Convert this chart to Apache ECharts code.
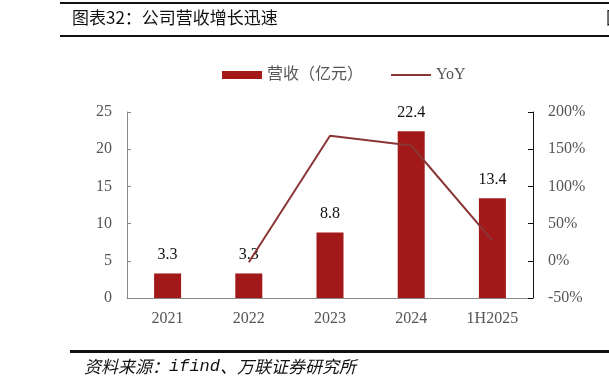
<!DOCTYPE html>
<html><head><meta charset="utf-8">
<script src="https://cdn.jsdelivr.net/npm/echarts@6/dist/echarts.min.js"></script>
<style>html,body{margin:0;padding:0;background:#fff}#c{width:609px;height:388px}</style>
</head><body><div id="c"></div>
<script>
var categories = ['2021', '2022', '2023', '2024', '1H2025'];
var revenue = [3.3, 3.3, 8.8, 22.4, 13.4];
var yoy = [null, -2, 168, 155, 27];
var leftTicks = {min: 0, max: 25, interval: 5};
var rightTicks = {min: -50, max: 200, interval: 50};
var titleText = '图表32：公司营收增长迅速';
var sourceParts = ['资料来源：', 'ifind', '、万联证券研究所'];

var numFont = '"Liberation Serif", "Noto Sans CJK SC", serif';
var cjkFont = '"Noto Sans CJK SC", serif';
var chart = echarts.init(document.getElementById('c'));
chart.setOption({
  animation: false,
  backgroundColor: '#fff',
  grid: {left: 127, right: 76, top: 112, bottom: 90},
  legend: {
    top: 67, left: 222, padding: 0,
    itemGap: 28,
    textStyle: {fontFamily: numFont, fontSize: 16, color: '#555'},
    data: [
      {name: '营收（亿元）', icon: 'rect', itemStyle: {color: '#A3191A'}},
      {name: 'YoY', icon: 'path://M0,0 L40,0 L40,2 L0,2 Z', itemStyle: {color: '#8B3535'}}
    ],
    itemWidth: 40, itemHeight: 8
  },
  graphic: [
    {type: 'rect', shape: {x: 60, y: 2, width: 549, height: 2}, style: {fill: '#111'}},
    {type: 'rect', shape: {x: 60, y: 35, width: 549, height: 2}, style: {fill: '#111'}},
    {type: 'text', left: 72, top: 9, style: {text: titleText, font: '17px "Noto Sans CJK SC"', fill: '#111'}},
    {type: 'text', left: 606, top: 9, style: {text: '图', font: '17px "Noto Sans CJK SC"', fill: '#111'}},
    {type: 'rect', shape: {x: 70, y: 350, width: 539, height: 3}, style: {fill: '#111'}},
    {type: 'text', left: 84, top: 358, style: {
      text: '{a|' + sourceParts[0] + '}{b|' + sourceParts[1] + '}{a|' + sourceParts[2] + '}',
      rich: {
        a: {fontFamily: 'Noto Sans CJK SC', fontStyle: 'italic', fontSize: 17, fill: '#111', color: '#111'},
        b: {fontFamily: 'Liberation Mono', fontStyle: 'italic', fontSize: 17, fill: '#111', color: '#111'}
      }
    }}
  ],
  xAxis: {
    type: 'category', data: categories,
    axisLine: {lineStyle: {color: '#888'}},
    axisTick: {inside: true, length: 5, lineStyle: {color: '#888'}},
    axisLabel: {fontFamily: numFont, fontSize: 16, color: '#555', margin: 13}
  },
  yAxis: [
    {type: 'value', min: leftTicks.min, max: leftTicks.max, interval: leftTicks.interval,
     splitLine: {show: false},
     axisLine: {show: true, lineStyle: {color: '#888'}},
     axisTick: {show: true, inside: true, length: 4, lineStyle: {color: '#888'}},
     axisLabel: {fontFamily: numFont, fontSize: 16, color: '#555', margin: 15}},
    {type: 'value', min: rightTicks.min, max: rightTicks.max, interval: rightTicks.interval,
     position: 'right', splitLine: {show: false},
     axisLine: {show: true, lineStyle: {color: '#111'}},
     axisTick: {show: true, inside: true, length: 5, lineStyle: {color: '#111'}},
     axisLabel: {fontFamily: numFont, fontSize: 16, color: '#555', margin: 15, formatter: '{value}%'}}
  ],
  series: [
    {name: '营收（亿元）', type: 'bar', data: revenue, barWidth: 27, yAxisIndex: 0,
     itemStyle: {color: '#A3191A'},
     label: {show: true, position: 'top', distance: 11, fontFamily: numFont, fontSize: 16, color: '#111',
       formatter: function (p) { return p.value.toFixed(1); }}},
    {name: 'YoY', type: 'line', data: yoy, yAxisIndex: 1, symbol: 'none',
     lineStyle: {color: '#8B3535', width: 2}, itemStyle: {color: '#8B3535'}}
  ]
});
</script></body></html>
